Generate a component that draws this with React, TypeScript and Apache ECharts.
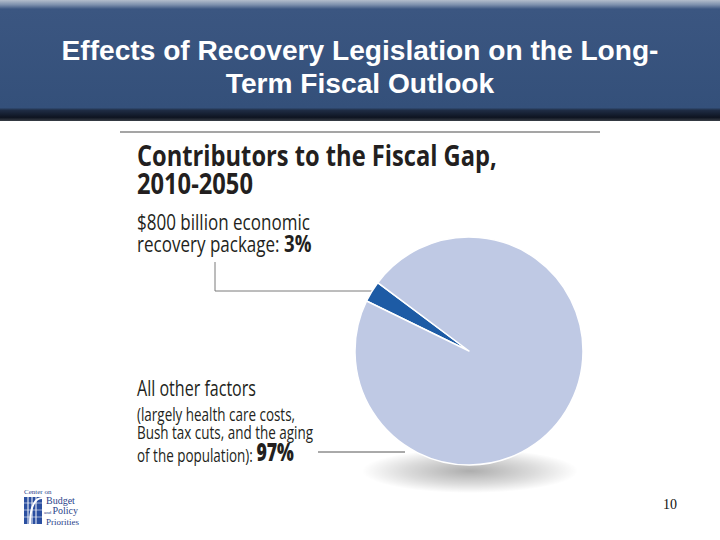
import React, { useEffect, useRef } from 'react';
import * as echarts from 'echarts';

const slideTitle = ['Effects of Recovery Legislation on the Long-', 'Term Fiscal Outlook'];
const chartTitle = ['Contributors to the Fiscal Gap,', '2010-2050'];
const categories = ['$800 billion economic recovery package', 'All other factors'];
const values = [3, 97];
const sliceColors = ['#1d5ba5', '#bfc9e4'];
const recoveryLines = ['$800 billion economic', 'recovery package: '];
const otherLines = ['All other factors', '(largely health care costs,', 'Bush tax cuts, and the aging', 'of the population): '];
const logoLines = ['Center on', 'Budget', 'and Policy', 'Priorities'];
const pageNumber = '10';

const FAMILY = '"Open Sans", "Noto Sans", sans-serif';
const INK = '#231f20';

type Part = { text: string; size: number; weight: number };

let ctx: CanvasRenderingContext2D | null = null;
function measureParts(parts: Part[], family = '"Open Sans"') {
  if (!ctx) ctx = document.createElement('canvas').getContext('2d');
  let w = 0;
  parts.forEach((p) => {
    ctx!.font = `${p.weight} ${p.size}px ${family}`;
    w += ctx!.measureText(p.text).width;
  });
  return w;
}

function richText(parts: Part[], x: number, baseline: number, scale: number) {
  const rich: Record<string, any> = {};
  let text = '';
  parts.forEach((p, i) => {
    rich['p' + i] = {
      fontFamily: FAMILY,
      fontSize: p.size,
      fontWeight: p.weight,
      fill: INK,
      verticalAlign: 'bottom',
      lineHeight: p.size * 1.2,
    };
    text += `{p${i}|${p.text}}`;
  });
  const maxSize = Math.max(...parts.map((p) => p.size));
  return {
    type: 'text',
    x,
    y: baseline + maxSize * 0.3,
    scaleX: scale,
    style: { text, rich, align: 'left', verticalAlign: 'bottom' },
  };
}

export default function App() {
  const ref = useRef<HTMLDivElement>(null);
  useEffect(() => {
    if (!ref.current) return;
    const chart = echarts.init(ref.current, undefined, { renderer: 'svg' });
    const total = values.reduce((a, b) => a + b, 0);
    const pct = values.map((v) => Math.round((v / total) * 100) + '%');

    const headFont = '"Liberation Sans", Arial, sans-serif';
    const headScale = 597 / measureParts([{ text: slideTitle[0], size: 27, weight: 700 }], headFont);

    const titleParts = chartTitle.map((t) => [{ text: t, size: 28, weight: 700 }]);
    const titleScale = 360 / measureParts(titleParts[0]);

    const recParts: Part[][] = [
      [{ text: recoveryLines[0], size: 21, weight: 400 }],
      [
        { text: recoveryLines[1], size: 21, weight: 400 },
        { text: pct[0], size: 23, weight: 700 },
      ],
    ];
    const recScale = 173 / measureParts(recParts[0]);

    const othParts: Part[][] = [
      [{ text: otherLines[0], size: 22, weight: 400 }],
      [{ text: otherLines[1], size: 19, weight: 400 }],
      [{ text: otherLines[2], size: 19, weight: 400 }],
      [
        { text: otherLines[3], size: 19, weight: 400 },
        { text: pct[1], size: 25, weight: 800 },
      ],
    ];
    const othScale0 = 119 / measureParts(othParts[0]);
    const othScale = 176 / measureParts(othParts[2]);

    const headText = (t: string, y: number) => ({
      type: 'text',
      x: 360,
      y,
      scaleX: headScale,
      style: {
        text: t,
        fill: '#ffffff',
        font: `bold 27px ${headFont}`,
        align: 'center',
        verticalAlign: 'middle',
      },
    });

    const graphics: any[] = [
      {
        type: 'rect',
        shape: { x: 0, y: 0, width: 720, height: 121 },
        style: {
          fill: new echarts.graphic.LinearGradient(0, 0, 0, 1, [
            { offset: 0, color: '#b3bdcc' },
            { offset: 0.04, color: '#7c8fac' },
            { offset: 0.075, color: '#3b5681' },
            { offset: 0.89, color: '#34507a' },
            { offset: 0.91, color: '#1f2d45' },
            { offset: 0.97, color: '#0e1421' },
            { offset: 1, color: '#3a3f47' },
          ]),
        },
      },
      headText(slideTitle[0], 51),
      headText(slideTitle[1], 84),
      {
        type: 'line',
        shape: { x1: 120, y1: 132, x2: 600, y2: 132 },
        style: { stroke: '#4d4d4d', lineWidth: 1.2 },
      },
      richText(titleParts[0], 137, 161, titleScale),
      richText(titleParts[1], 137, 189, titleScale),
      richText(recParts[0], 137, 226, recScale),
      richText(recParts[1], 137, 248, recScale),
      richText(othParts[0], 137, 392, othScale0),
      richText(othParts[1], 137, 417, othScale),
      richText(othParts[2], 137, 435, othScale),
      richText(othParts[3], 137, 456, othScale),
      {
        type: 'polyline',
        shape: { points: [[215, 262], [215, 291], [372, 291]] },
        style: { stroke: '#7a7a7a', lineWidth: 1, fill: 'none' },
      },
      {
        type: 'line',
        shape: { x1: 318, y1: 452, x2: 405, y2: 452 },
        style: { stroke: '#555555', lineWidth: 1 },
      },
      {
        type: 'ellipse',
        shape: { cx: 470, cy: 471, rx: 108, ry: 22 },
        style: {
          fill: new echarts.graphic.RadialGradient(0.5, 0.5, 0.5, [
            { offset: 0, color: 'rgba(0,0,0,0.32)' },
            { offset: 0.6, color: 'rgba(0,0,0,0.14)' },
            { offset: 1, color: 'rgba(0,0,0,0)' },
          ]),
        },
      },
      // logo
      {
        type: 'text',
        x: 24,
        y: 495,
        style: { text: logoLines[0], fill: '#2a3f8a', font: '7px "Liberation Serif", serif', align: 'left', verticalAlign: 'bottom' },
      },
      {
        type: 'rect',
        shape: { x: 24, y: 497, width: 18, height: 27 },
        style: { fill: '#2b4fa0' },
      },
      ...[28, 32, 36].map((lx) => ({
        type: 'line',
        shape: { x1: lx, y1: 497, x2: lx, y2: 524 },
        style: { stroke: '#ffffff', lineWidth: 1 },
      })),
      ...[503, 510, 517].map((ly) => ({
        type: 'line',
        shape: { x1: 24, y1: ly, x2: 42, y2: ly },
        style: { stroke: 'rgba(255,255,255,0.7)', lineWidth: 0.8 },
      })),
      {
        type: 'bezierCurve',
        shape: { x1: 30, y1: 524, x2: 42, y2: 498, cpx1: 30, cpy1: 505, cpx2: 36, cpy2: 498 },
        style: { stroke: '#ffffff', lineWidth: 2, fill: 'none' },
      },
      {
        type: 'text',
        x: 46,
        y: 505,
        style: { text: logoLines[1], fill: '#2a3f8a', font: '10px "Liberation Serif", serif', align: 'left', verticalAlign: 'bottom' },
      },
      {
        type: 'text',
        x: 44,
        y: 515,
        style: {
          text: '{s|and }{b|Policy}',
          rich: {
            s: { fill: '#2a3f8a', fontSize: 5, fontFamily: '"Liberation Serif", serif', verticalAlign: 'bottom' },
            b: { fill: '#2a3f8a', fontSize: 10, fontFamily: '"Liberation Serif", serif', verticalAlign: 'bottom' },
          },
          align: 'left',
          verticalAlign: 'bottom',
        },
      },
      {
        type: 'text',
        x: 46,
        y: 526,
        style: { text: logoLines[3], fill: '#2a3f8a', font: '9px "Liberation Serif", serif', align: 'left', verticalAlign: 'bottom' },
      },
      {
        type: 'text',
        x: 663,
        y: 504,
        style: { text: pageNumber, fill: '#111111', font: '14px "Liberation Serif", serif', align: 'left', verticalAlign: 'middle' },
      },
    ];

    chart.setOption({
      animation: false,
      backgroundColor: '#ffffff',
      graphic: graphics,
      series: [
        {
          type: 'pie',
          center: [469, 351],
          radius: 114,
          startAngle: 154,
          clockwise: true,
          silent: true,
          label: { show: false },
          labelLine: { show: false },
          itemStyle: { borderColor: '#ffffff', borderWidth: 1.5 },
          data: categories.map((name, i) => ({
            name,
            value: values[i],
            itemStyle: { color: sliceColors[i] },
          })),
        },
      ],
    });
    return () => chart.dispose();
  }, []);
  return (
    <div
      ref={ref}
      style={{ position: 'absolute', left: 0, top: 0, width: 720, height: 540 }}
    />
  );
}
